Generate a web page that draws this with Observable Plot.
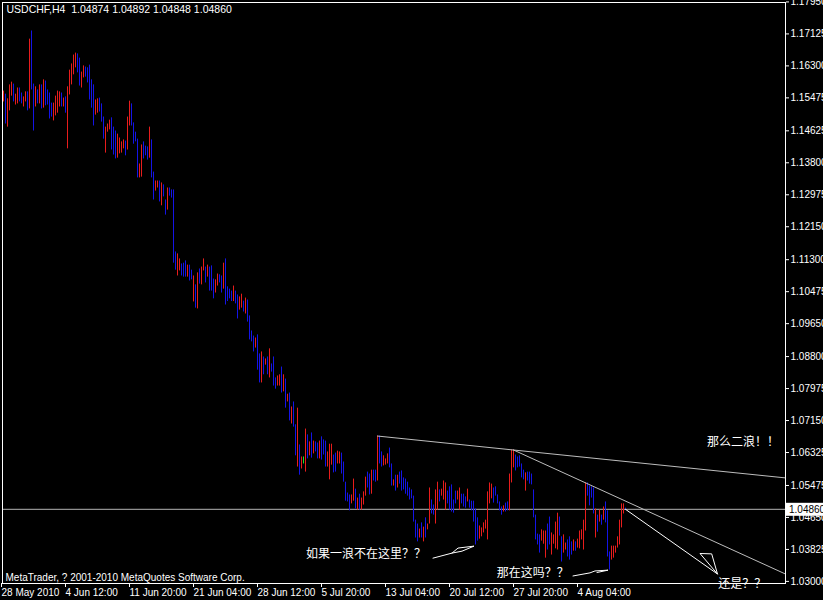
<!DOCTYPE html>
<html><head><meta charset="utf-8">
<script src="https://cdn.jsdelivr.net/npm/d3@7"></script>
<script src="https://cdn.jsdelivr.net/npm/@observablehq/plot@0.6"></script>
<style>
html,body{margin:0;padding:0;background:#000;overflow:hidden;}
#chart svg{display:block;}
</style></head><body><div id="chart"></div>
<script>
const symbolTitle = "USDCHF,H4  1.04874 1.04892 1.04848 1.04860";
const copyright = "MetaTrader, ? 2001-2010 MetaQuotes Software Corp.";

// H4 bars: high, low, direction (U = up/red, D = down/blue, N = unchanged/green)
const high = [
1.1565,1.1557,1.1545,1.1581,1.1588,1.1583,1.1557,1.1573,1.1573,1.1560,
1.1550,1.1563,1.1563,1.1699,1.1720,1.1583,1.1576,1.1568,1.1581,1.1581,
1.1594,1.1591,1.1568,1.1560,1.1534,1.1534,1.1552,1.1565,1.1563,1.1560,
1.1547,1.1550,1.1576,1.1619,1.1635,1.1658,1.1663,1.1661,1.1650,1.1614,
1.1630,1.1627,1.1625,1.1632,1.1594,1.1581,1.1542,1.1545,1.1547,1.1532,
1.1498,1.1472,1.1480,1.1490,1.1496,1.1472,1.1462,1.1454,1.1444,1.1434,
1.1439,1.1436,1.1498,1.1539,1.1532,1.1483,1.1459,1.1441,1.1377,1.1426,
1.1434,1.1423,1.1421,1.1472,1.1439,1.1356,1.1333,1.1333,1.1333,1.1328,
1.1323,1.1284,1.1315,1.1315,1.1310,1.1310,1.1150,1.1145,1.1132,1.1119,
1.1121,1.1127,1.1116,1.1116,1.1103,1.1088,1.1065,1.1096,1.1106,1.1111,
1.1132,1.1111,1.1116,1.1111,1.1114,1.1080,1.1078,1.1093,1.1091,1.1088,
1.1121,1.1132,1.1060,1.1054,1.1049,1.1062,1.1049,1.1039,1.1034,1.1041,
1.1023,1.1031,1.1026,1.0985,1.0946,1.0933,1.0928,1.0936,1.0887,1.0892,
1.0879,1.0874,1.0879,1.0900,1.0861,1.0879,1.0825,1.0830,1.0833,1.0853,
1.0833,1.0822,1.0783,1.0786,1.0750,1.0763,1.0704,1.0747,1.0652,1.0621,
1.0621,1.0693,1.0678,1.0660,1.0683,1.0662,1.0660,1.0657,1.0662,1.0673,
1.0665,1.0662,1.0634,1.0654,1.0654,1.0626,1.0631,1.0636,1.0634,1.0631,
1.0608,1.0556,1.0528,1.0523,1.0523,1.0564,1.0538,1.0515,1.0525,1.0515,
1.0531,1.0569,1.0582,1.0577,1.0587,1.0587,1.0587,1.0675,1.0675,1.0634,
1.0624,1.0616,1.0629,1.0644,1.0603,1.0562,1.0574,1.0574,1.0582,1.0585,
1.0567,1.0564,1.0556,1.0541,1.0536,1.0520,1.0458,1.0448,1.0435,1.0451,
1.0440,1.0464,1.0448,1.0541,1.0510,1.0497,1.0536,1.0556,1.0536,1.0538,
1.0559,1.0554,1.0533,1.0544,1.0549,1.0510,1.0533,1.0533,1.0541,1.0525,
1.0525,1.0518,1.0538,1.0510,1.0507,1.0507,1.0487,1.0464,1.0443,1.0438,
1.0451,1.0458,1.0531,1.0554,1.0551,1.0541,1.0544,1.0523,1.0505,1.0492,
1.0495,1.0502,1.0505,1.0577,1.0639,1.0639,1.0626,1.0621,1.0624,1.0603,
1.0587,1.0580,1.0582,1.0582,1.0577,1.0536,1.0471,1.0422,1.0420,1.0433,
1.0430,1.0430,1.0448,1.0466,1.0425,1.0420,1.0453,1.0476,1.0466,1.0415,
1.0420,1.0399,1.0407,1.0415,1.0402,1.0407,1.0402,1.0409,1.0430,1.0433,
1.0458,1.0554,1.0554,1.0546,1.0544,1.0541,1.0487,1.0471,1.0484,1.0471,
1.0492,1.0505,1.0482,1.0376,1.0391,1.0391,1.0391,1.0415,1.0458,1.0500,
1.0500,1.04892
];
const low = [
1.1537,1.1480,1.1472,1.1514,1.1552,1.1537,1.1529,1.1532,1.1537,1.1532,
1.1524,1.1537,1.1514,1.1519,1.1568,1.1462,1.1524,1.1532,1.1532,1.1519,
1.1521,1.1527,1.1529,1.1493,1.1498,1.1488,1.1501,1.1508,1.1524,1.1524,
1.1524,1.1508,1.1416,1.1555,1.1581,1.1607,1.1625,1.1612,1.1578,1.1573,
1.1599,1.1601,1.1586,1.1542,1.1521,1.1475,1.1503,1.1508,1.1511,1.1485,
1.1441,1.1405,1.1459,1.1465,1.1413,1.1400,1.1390,1.1392,1.1403,1.1405,
1.1416,1.1398,1.1413,1.1475,1.1475,1.1428,1.1434,1.1341,1.1341,1.1343,
1.1390,1.1398,1.1387,1.1392,1.1341,1.1284,1.1307,1.1315,1.1279,1.1269,
1.1292,1.1245,1.1258,1.1294,1.1289,1.1121,1.1103,1.1088,1.1101,1.1088,
1.1085,1.1085,1.1085,1.1075,1.1078,1.1021,1.1005,1.1003,1.1067,1.1065,
1.1101,1.1070,1.1085,1.1049,1.1049,1.1029,1.1044,1.1062,1.1070,1.1044,
1.1054,1.1013,1.1022,1.1029,1.1022,1.1022,1.1016,1.0977,1.1000,1.1005,
1.0995,1.0990,1.0969,1.0923,1.0918,1.0892,1.0902,1.0845,1.0812,1.0812,
1.0833,1.0858,1.0833,1.0825,1.0840,1.0804,1.0796,1.0804,1.0804,1.0786,
1.0789,1.0747,1.0763,1.0714,1.0706,1.0698,1.0624,1.0595,1.0574,1.0590,
1.0603,1.0582,1.0616,1.0624,1.0618,1.0629,1.0634,1.0616,1.0616,1.0613,
1.0626,1.0595,1.0595,1.0562,1.0600,1.0580,1.0582,1.0603,1.0603,1.0577,
1.0556,1.0507,1.0505,1.0482,1.0500,1.0507,1.0487,1.0484,1.0484,1.0484,
1.0497,1.0520,1.0541,1.0523,1.0525,1.0559,1.0556,1.0559,1.0603,1.0595,
1.0598,1.0600,1.0603,1.0593,1.0546,1.0546,1.0533,1.0541,1.0551,1.0533,
1.0536,1.0525,1.0520,1.0510,1.0513,1.0453,1.0412,1.0402,1.0412,1.0412,
1.0402,1.0412,1.0433,1.0448,1.0474,1.0471,1.0448,1.0484,1.0505,1.0520,
1.0510,1.0484,1.0500,1.0484,1.0479,1.0476,1.0500,1.0510,1.0484,1.0500,
1.0492,1.0489,1.0505,1.0489,1.0482,1.0453,1.0394,1.0404,1.0409,1.0415,
1.0425,1.0435,1.0407,1.0500,1.0513,1.0502,1.0520,1.0500,1.0482,1.0471,
1.0479,1.0479,1.0482,1.0482,1.0554,1.0593,1.0585,1.0593,1.0595,1.0567,
1.0562,1.0533,1.0559,1.0551,1.0549,1.0464,1.0407,1.0394,1.0373,1.0404,
1.0396,1.0360,1.0381,1.0394,1.0368,1.0396,1.0384,1.0381,1.0417,1.0350,
1.0373,1.0381,1.0363,1.0355,1.0368,1.0378,1.0378,1.0386,1.0384,1.0407,
1.0381,1.0430,1.0520,1.0495,1.0515,1.0474,1.0412,1.0427,1.0453,1.0445,
1.0458,1.0451,1.0363,1.0329,1.0355,1.0360,1.0373,1.0386,1.0394,1.0438,
1.0474,1.04848
];
const dir =
"UDUUUDUUDD"+"UUDUDDUDUD"+"UDDDDUUUUD"+"UDUUUUUDDU"+"UDDDDDUUDD"+
"DUUUDDDUUU"+"UDUUDDDDUU"+"DDDUDDUUDU"+"DDUDDDDUUD"+"DDUDDUDUDU"+
"UDUDDDUUDD"+"UDDDDUDDUU"+"DUDDDDUDDU"+"DUDUDDDUUD"+"UDUDUDDUDU"+
"NUDUDUDDUD"+"DDUUUDDUUD"+"DDDDUUDUDU"+"UUDDUDDUDD"+"UUUDDUDUDD"+
"DDDDDDDDUD"+"UDUUDDUUDU"+"UUDDDDDUUD"+"DDUDDDDDUU"+"UUUUUDDDDD"+
"UDDUUUDDDD"+"DUDDDDDDDU"+"UUDDUUUUDD"+"UUDDDUDUUU"+"UUDDDDUDUD"+
"UDDDUUUUUU"+"UD";

const timeTickIndex = [0,32,64,96,128,160,192,224,256,288];
const timeTickLabels = ["28 May 2010","4 Jun 12:00","11 Jun 20:00","21 Jun 04:00","28 Jun 12:00",
  "5 Jul 20:00","13 Jul 04:00","20 Jul 12:00","27 Jul 20:00","4 Aug 04:00"];
const priceTicks = [1.17950,1.17125,1.16300,1.15475,1.14625,1.13800,1.12975,1.12150,1.11300,
  1.10475,1.09650,1.08800,1.07975,1.07150,1.06325,1.05475,1.04650,1.03825,1.03000];
const lastPrice = 1.04860;

// Drawn trend lines (bar index, price)
const trendIndex = [187, 391, 255, 391];
const trendPrice = [1.0675, 1.0567, 1.0639, 1.0319];
const trendGroup = ["A","A","B","B"];

// Hand-drawn white arrows (bar index, price)
const arrowIndex = [214.75,224.25,227.25,235.25,229.25,224.25,
                    284.75,293.25,295.75,302.25,296.75,
                    311,357,354.1,348.25,357];
const arrowPrice = [1.0360,1.0373,1.0386,1.0391,1.0378,1.0373,
                    1.0314,1.0322,1.0327,1.0329,1.0323,
                    1.0486,1.0319,1.0371,1.0372,1.0319];
const arrowGroup = ["a","a","a","a","a","a","b","b","b","b","b","c","c","c","c","c"];

// Notes written on the chart
const noteText = ["那么二浪！！","如果一浪不在这里？？","那在这吗？？","还是？？"];
const noteIndex = [351.75, 151.25, 246.6, 357.4];
const notePrice = [1.0660, 1.0370, 1.0321, 1.0292];

const bars = high.map((h, i) => ({i, high: h, low: low[i], dir: dir[i]}));
const trend = trendIndex.map((v, k) => ({i: v, p: trendPrice[k], g: trendGroup[k]}));
const arrows = arrowIndex.map((v, k) => ({i: v, p: arrowPrice[k], g: arrowGroup[k]}));
const notes = noteText.map((t, k) => ({t, i: noteIndex[k], p: notePrice[k]}));

const font = "'Liberation Sans', Arial, sans-serif";
const plot = Plot.plot({
  width: 823, height: 600,
  marginLeft: 2, marginRight: 38, marginTop: 2, marginBottom: 17,
  style: {background: "#000", color: "#fff", fontFamily: font, fontSize: "10px"},
  x: {type: "linear", domain: [0, 391], range: [3, 785]},
  y: {type: "linear", domain: [1.03, 1.18], range: [580.9, -0.5]},
  color: {type: "ordinal", domain: ["U","D","N"], range: ["#e81c1c","#1414e6","#22e022"]},
  marks: [
    Plot.ruleY([lastPrice], {stroke: "#b4b4b4", strokeWidth: 1}),
    Plot.ruleX(bars, {x: "i", y1: "low", y2: "high", stroke: "dir", strokeWidth: 1}),
    Plot.line(trend, {x: "i", y: "p", z: "g", stroke: "#bdbdbd", strokeWidth: 1}),
    Plot.line(arrows, {x: "i", y: "p", z: "g", stroke: "#ffffff", strokeWidth: 1, curve: "linear"}),
    Plot.text(notes, {x: "i", y: "p", text: "t", textAnchor: "start", fill: "#fff",
      fontSize: 12, fontFamily: "'Noto Sans CJK SC', sans-serif"}),
    Plot.frame({stroke: "#fff"}),
    Plot.axisY(priceTicks, {anchor: "right", tickSize: 3, tickPadding: 2, label: null,
      tickFormat: d => d.toFixed(5), stroke: "#fff", fill: "#fff", textAnchor: "start", fontSize: 10}),
    Plot.axisX(timeTickIndex, {anchor: "bottom", tickSize: 4, tickPadding: 1, label: null,
      tickFormat: d => timeTickLabels[timeTickIndex.indexOf(d)], stroke: "#fff", fill: "#fff",
      textAnchor: "start", dx: -2, fontSize: 10}),
    Plot.text([symbolTitle], {frameAnchor: "top-left", dx: 4, dy: 3, lineAnchor: "top",
      textAnchor: "start", fill: "#fff", fontSize: 10.5}),
    Plot.text([copyright], {frameAnchor: "bottom-left", dx: 3, dy: -3, lineAnchor: "bottom",
      textAnchor: "start", fill: "#fff", fontSize: 10})
  ]
});
document.getElementById("chart").appendChild(plot);

// current price label box on the price axis
const yy = plot.scale("y").apply(lastPrice);
const svg = d3.select(plot);
const g = svg.append("g");
g.append("rect").attr("x", 786).attr("y", yy - 6).attr("width", 40).attr("height", 13).attr("fill", "#fff");
g.append("text").attr("x", 789).attr("y", yy + 0.5).attr("dy", "0.35em").attr("fill", "#000")
  .attr("text-anchor", "start").attr("font-size", 10).attr("font-family", font).text(lastPrice.toFixed(5));
</script>
</body></html>
